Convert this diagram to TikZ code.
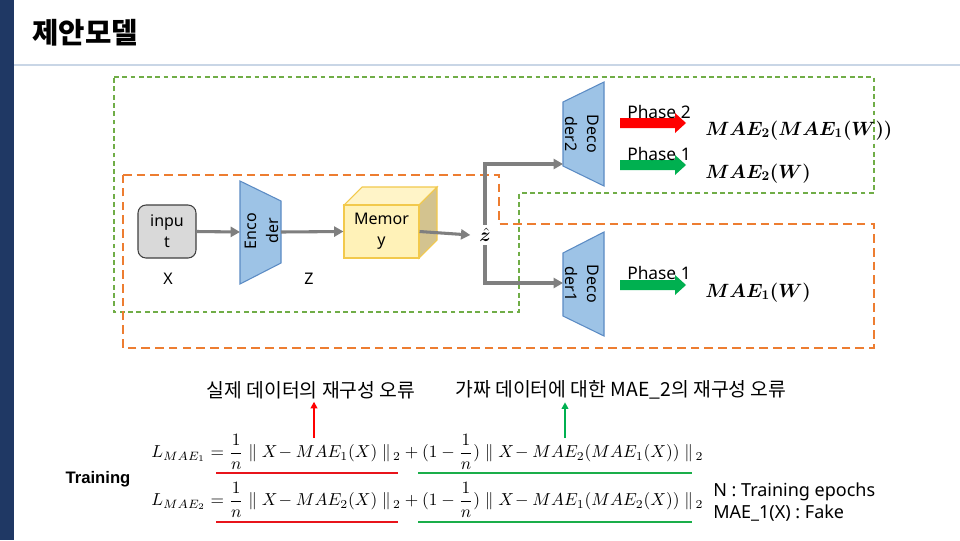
\documentclass[tikz,border=0pt]{standalone}
\usepackage{amsmath}
\usepackage{bm}
\usepackage{graphicx}
\usepackage{fontspec}
\setmainfont{Noto Sans}
\newfontfamily\kr{Noto Sans CJK KR}
\newfontfamily\arialf{Liberation Sans}
\usetikzlibrary{arrows.meta}
\definecolor{navy}{HTML}{1F3864}
\definecolor{titleline}{HTML}{C9D6E6}
\definecolor{orangec}{HTML}{ED7D31}
\definecolor{greendc}{HTML}{70AD47}
\definecolor{grayc}{HTML}{7F7F7F}
\definecolor{bluefill}{HTML}{9DC3E6}
\definecolor{blueline}{HTML}{5B8BC4}
\definecolor{inpfill}{HTML}{D9D9D9}
\definecolor{inpline}{HTML}{404040}
\definecolor{memfront}{HTML}{FFF2B8}
\definecolor{memtop}{HTML}{FFF4C8}
\definecolor{memside}{HTML}{D3C38F}
\definecolor{memline}{HTML}{F2C94C}
\definecolor{redc}{HTML}{FF0000}
\definecolor{greenc}{HTML}{00B050}
\definecolor{ulred}{HTML}{E8141B}
\definecolor{ulgreen}{HTML}{1AAE4A}
\begin{document}
\begin{tikzpicture}[x=0.75pt,y=-0.75pt,
  conn/.style={draw=grayc, line width=2.3pt, -{Triangle[length=7pt,width=7.5pt]}},
  boxtext/.style={font=\fontsize{12}{16}\selectfont, align=center},
  trap/.style={fill=bluefill, draw=blueline, line width=0.8pt},
  greendash/.style={draw=greendc, line width=0.9pt, dash pattern=on 3.6pt off 2.6pt},
  orangedash/.style={draw=orangec, line width=1.5pt, dash pattern=on 6.5pt off 3.8pt},
  phaselabel/.style={anchor=base west, inner sep=0, font=\fontsize{13}{15}\selectfont},
  maelabel/.style={anchor=base west, inner sep=0, font=\fontsize{14.5}{17}\selectfont},
  krlabel/.style={font=\kr\fontsize{14.5}{17}\selectfont, inner xsep=0, inner ysep=2pt},
  thinarrow/.style={line width=1.5pt, -{Triangle[length=5pt,width=5pt]}},
  uline/.style={line width=2.2pt},
  pics/blockarr/.style={code={\fill[#1] (0,-5) -- (55,-5) -- (55,-10) -- (66,0) -- (55,10) -- (55,5) -- (0,5) -- cycle;}}
]
\useasboundingbox (0,0) rectangle (960,540);
\fill[white] (0,0) rectangle (960,540);
\fill[navy] (0,0) rectangle (14,540);
\draw[titleline, line width=1.2pt] (14,65) -- (960,65);
\node[anchor=west, inner sep=0, font=\kr\bfseries\fontsize{21.5}{24}\selectfont] (title) at (32,33) {제안모델};

% dashed group boxes
\draw[greendash] (114,77) -- (874,77) -- (874,193) -- (519,193) -- (519,312) -- (114,312) -- cycle;
\draw[orangedash] (123,175) -- (499,175) -- (499,224) -- (874,224) -- (874,348) -- (123,348) -- cycle;

% input
\node[boxtext, fill=inpfill, draw=inpline, line width=0.8pt, rounded corners=6pt,
      minimum width=43.5pt, minimum height=39.75pt, inner sep=0] (inp) at (167,231.5) {inpu\\t};
\node[font=\fontsize{12}{14}\selectfont] (xlab) at (168,279) {X};

% encoder
\draw[trap] (240,181) -- (281,201) -- (281,263) -- (240,284) -- cycle;
\node[boxtext, rotate=90] (enc) at (262,231) {Enco\\der};
\coordinate (encL) at (240,232);
\coordinate (encR) at (281,232);
\node[font=\fontsize{12}{14}\selectfont] (zlab) at (309,279) {Z};
\draw[conn] (inp.east) -- (encL);

% memory cube
\filldraw[fill=memtop, draw=memline, line width=0.8pt] (344,205) -- ++(18,-18) -- ++(75,0) -- ++(-18,18) -- cycle;
\filldraw[fill=memside, draw=memline, line width=0.8pt] (419,205) -- ++(18,-18) -- ++(0,53) -- ++(-18,18) -- cycle;
\node[boxtext, draw=memline, fill=memfront, line width=0.8pt, minimum width=56.25pt,
      minimum height=39.75pt, inner sep=0] (mem) at (381.5,231.5) {Memor\\y};
\draw[conn] (encR) -- (mem.west);

% z hat
\node[inner xsep=6.5pt, inner ysep=2.5pt, font=\fontsize{15}{17}\selectfont] (zh) at (485,235) {$\hat{\bm{z}}$};
\draw[conn] (mem.east) -- (zh.west);

% decoders
\draw[trap] (563,102) -- (604,82) -- (604,186) -- (563,166) -- cycle;
\node[boxtext, rotate=-90] (dec2) at (582,134) {Deco\\der2};
\coordinate (d2in) at (563,164);
\draw[trap] (563,253) -- (604,232) -- (604,336) -- (563,316) -- cycle;
\node[boxtext, rotate=-90] (dec1) at (582,284) {Deco\\der1};
\coordinate (d1in) at (563,283);
\draw[conn] (zh.north) |- (d2in);
\draw[conn] (zh.south) |- (d1in);

% phase arrows
\pic at (620,123) {blockarr=redc};
\pic at (620,165) {blockarr=greenc};
\pic at (620,285) {blockarr=greenc};
\node[phaselabel] (ph2) at (627,118) {Phase 2};
\node[phaselabel] (ph1a) at (627,160) {Phase 1};
\node[phaselabel] (ph1b) at (627,279) {Phase 1};

% outputs
\node[maelabel] (o1) at (705,135) {$\bm{MAE_2(MAE_1(W))}$};
\node[maelabel] (o2) at (705,178) {$\bm{MAE_2(W)}$};
\node[maelabel] (o3) at (705,297) {$\bm{MAE_1(W)}$};

% bottom labels
\node[krlabel] (lab1) at (311,390) {실제 데이터의 재구성 오류};
\node[krlabel] (lab2) at (621,390) {가짜 데이터에 대한 MAE\_2의 재구성 오류};
\coordinate (r0) at (314,438);
\coordinate (g0) at (565,438);
\draw[thinarrow, draw=redc, fill=redc] (r0) -- (r0 |- lab1.south);
\draw[thinarrow, draw=greenc, fill=greenc] (g0) -- (g0 |- lab2.south);

% equations
\node[anchor=west, inner sep=0] (eq1) at (151,452)
  {\resizebox{414pt}{!}{$\displaystyle L_{MAE_1} = \frac{1}{n}\;\|\;X\!-MAE_1(X)\;\|_{\,2} + (1-\frac{1}{n})\;\|\;X\!-MAE_2(MAE_1(X))\;\|_{\,2}$}};
\node[anchor=west, inner sep=0] (eq2) at (151,500)
  {\resizebox{414pt}{!}{$\displaystyle L_{MAE_2} = \frac{1}{n}\;\|\;X\!-MAE_2(X)\;\|_{\,2} + (1-\frac{1}{n})\;\|\;X\!-MAE_1(MAE_2(X))\;\|_{\,2}$}};
\draw[uline, ulred] (216,473) -- (398,473);
\draw[uline, ulred] (216,522) -- (398,522);
\draw[uline, ulgreen] (418,473) -- (692,473);
\draw[uline, ulgreen] (418,522) -- (692,522);

\node[font=\arialf\bfseries\fontsize{12.5}{14}\selectfont] (train) at (98,479) {Training};
\node[anchor=west, inner sep=0, align=left, font=\fontsize{13.5}{16}\selectfont] (notes) at (713,502) {N : Training epochs\\MAE\_1(X) : Fake};
\end{tikzpicture}
\end{document}
